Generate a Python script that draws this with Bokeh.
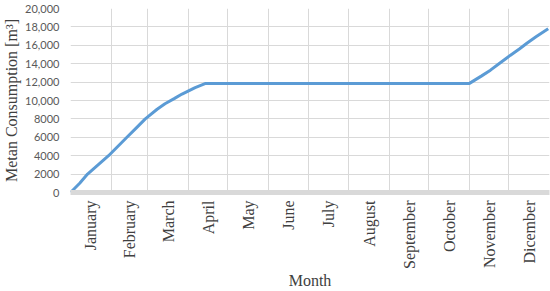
from bokeh.plotting import figure
from bokeh.models import FixedTicker
from bokeh.embed import file_html
from bokeh.resources import INLINE

# ---- data ----
month_names = ["January", "February", "March", "April", "May", "June", "July",
               "August", "September", "October", "November", "Dicember"]
month_start_days = [0, 31, 59, 90, 120, 151, 181, 212, 243, 273, 304, 334, 365]

days = [0, 7, 13, 21, 29, 36, 43, 50, 57, 66, 72, 79, 85, 90, 95, 103,
        304, 313, 320, 327, 335, 342, 348, 355, 364]
consumption = [0, 1000, 2000, 3000, 4000, 5000, 6000, 7000, 8000, 9050, 9650,
               10200, 10700, 11050, 11400, 11860,
               11860, 12650, 13300, 14050, 14900, 15600, 16250, 16950, 17800]

y_ticks = [0, 2000, 4000, 6000, 8000, 10000, 12000, 14000, 16000, 18000, 20000]
y_tick_labels = ["0", "2000", "4000", "6000", "8000", "10,000", "12,000",
                 "14,000", "16,000", "18,000", "20,000"]

# ---- figure ----
p = figure(width=550, height=291, output_backend="svg", toolbar_location=None,
           x_range=(0, 365), y_range=(0, 20000),
           min_border_left=68, min_border_right=1, min_border_top=8,
           min_border_bottom=97)
p.outline_line_color = None
p.background_fill_color = "white"

p.line(days, consumption, line_color="#5b9bd5", line_width=3)

# x axis: labels at month middles, grid at month boundaries
mids = [(month_start_days[i] + month_start_days[i + 1]) / 2 for i in range(12)]
p.xaxis.ticker = FixedTicker(ticks=mids)
p.xaxis.major_label_overrides = {m: n for m, n in zip(mids, month_names)}
p.xaxis.major_label_orientation = 1.5707963
p.xaxis.major_tick_line_color = None
p.xaxis.major_tick_out = 0
p.xaxis.major_tick_in = 0
p.xaxis.minor_tick_line_color = None
p.xaxis.minor_tick_out = 0
p.xaxis.axis_line_color = "#d9d9d9"
p.xaxis.axis_line_width = 5
p.xaxis.major_label_text_font = "Liberation Serif"
p.xaxis.major_label_text_font_size = "16px"
p.xaxis.major_label_text_color = "#404040"
p.xaxis.major_label_standoff = 8
p.xaxis.axis_label = "Month"
p.xaxis.axis_label_text_font = "Liberation Serif"
p.xaxis.axis_label_text_font_size = "16px"
p.xaxis.axis_label_text_font_style = "normal"
p.xaxis.axis_label_text_color = "#404040"
p.xaxis.axis_label_standoff = 0

p.xgrid.ticker = FixedTicker(ticks=month_start_days)
p.xgrid.grid_line_color = "#d9d9d9"
p.xgrid.grid_line_width = 1

# y axis
p.yaxis.ticker = FixedTicker(ticks=y_ticks)
p.yaxis.major_label_overrides = {t: s for t, s in zip(y_ticks, y_tick_labels)}
p.yaxis.axis_line_color = None
p.yaxis.major_tick_line_color = None
p.yaxis.major_tick_out = 0
p.yaxis.major_tick_in = 0
p.yaxis.minor_tick_line_color = None
p.yaxis.minor_tick_out = 0
p.yaxis.major_label_text_font = "Lato"
p.yaxis.major_label_text_font_size = "11px"
p.yaxis.major_label_text_color = "#595959"
p.yaxis.major_label_standoff = 11
p.yaxis.axis_label = "Metan Consumption [m³]"
p.yaxis.axis_label_text_font = "Liberation Serif"
p.yaxis.axis_label_text_font_size = "16px"
p.yaxis.axis_label_text_font_style = "normal"
p.yaxis.axis_label_text_color = "#404040"
p.yaxis.axis_label_standoff = 2

p.ygrid.grid_line_color = "#d9d9d9"
p.ygrid.grid_line_width = 1

open("out.html", "w").write(file_html(p, INLINE))
